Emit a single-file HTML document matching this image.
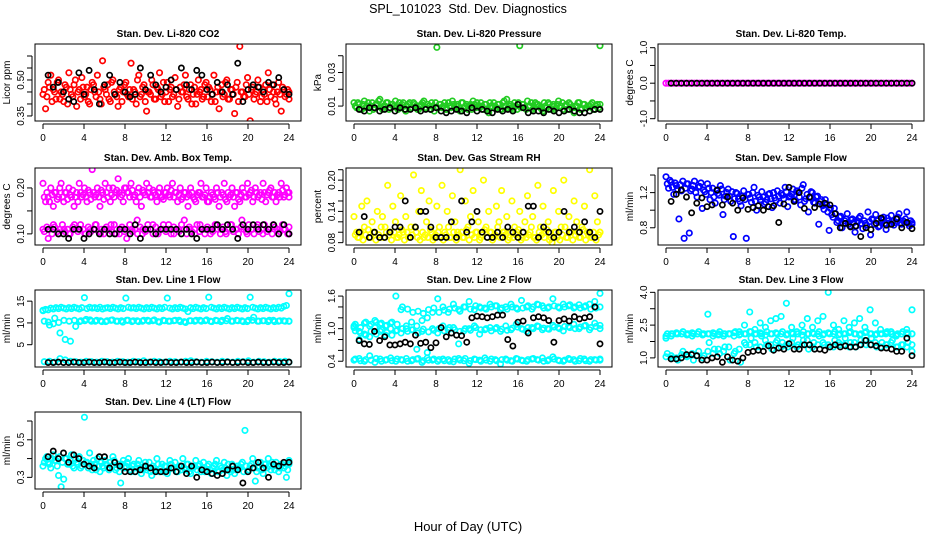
<!DOCTYPE html>
<html><head><meta charset="utf-8"><style>
html,body{margin:0;padding:0;background:#fff;}
svg{display:block;font-family:"Liberation Sans",Arial,sans-serif;}
</style></head><body>
<svg id="chart" width="936" height="540" viewBox="0 0 936 540">
<rect x="0" y="0" width="936" height="540" fill="#fff"/>
<text x="468" y="13" text-anchor="middle" font-size="12.5" xml:space="preserve">SPL_101023&#160;&#160;Std. Dev. Diagnostics</text>
<text x="468" y="531" text-anchor="middle" font-size="13">Hour of Day (UTC)</text>
</svg>
<script>
const xTicks=[0,4,8,12,16,20,24];
// Panel 1 CO2
const co2Color=[0.44,0.38,0.49,0.52,0.46,0.42,0.50,0.45,0.41,0.47,0.53,0.44,0.48,0.39,0.46,0.51,0.43,0.47,0.40,0.49,0.45,0.52,0.42,0.58,0.46,0.48,0.41,0.50,0.44,0.39,0.47,0.45,0.49,0.43,0.57,0.46,0.40,0.52,0.44,0.48,0.37,0.45,0.50,0.42,0.47,0.53,0.44,0.41,0.49,0.46,0.43,0.51,0.39,0.47,0.45,0.52,0.42,0.48,0.44,0.40,0.50,0.46,0.43,0.49,0.47,0.41,0.52,0.45,0.38,0.48,0.44,0.50,0.42,0.46,0.36,0.49,0.64,0.45,0.43,0.51,0.33,0.47,0.44,0.50,0.41,0.46,0.48,0.53,0.43,0.45,0.40,0.49,0.37,0.46,0.44,0.42];
const co2ColorB=[0.46,0.43,0.47,0.41,0.45,0.49,0.42,0.44,0.48,0.40,0.46,0.43,0.50,0.45,0.42,0.47,0.44,0.41,0.46,0.48,0.43,0.45,0.40,0.47,0.44,0.42,0.49,0.45,0.43,0.46,0.41,0.48,0.44,0.46,0.42,0.45,0.50,0.43,0.47,0.41,0.45,0.44,0.48,0.42,0.46,0.43,0.49,0.45,0.41,0.47,0.44,0.46,0.42,0.45,0.48,0.43,0.46,0.40,0.47,0.44,0.45,0.42,0.48,0.43,0.46,0.44,0.41,0.47,0.45,0.43,0.49,0.42,0.46,0.44,0.47,0.41,0.45,0.43,0.48,0.44,0.46,0.42,0.45,0.47,0.43,0.44,0.41,0.46,0.48,0.42,0.45,0.44,0.47,0.43,0.46,0.45];
const co2Black=[0.52,0.47,0.49,0.45,0.42,0.41,0.53,0.44,0.54,0.46,0.40,0.48,0.52,0.44,0.49,0.45,0.43,0.44,0.55,0.46,0.52,0.48,0.45,0.47,0.50,0.46,0.55,0.48,0.46,0.54,0.52,0.46,0.44,0.49,0.45,0.48,0.44,0.57,0.41,0.46,0.48,0.47,0.45,0.49,0.48,0.51,0.46,0.44];
// Panel 2 Pressure
const presColor=[0.012,0.009,0.011,0.008,0.013,0.010,0.007,0.012,0.009,0.011,0.014,0.008,0.010,0.012,0.009,0.011,0.013,0.008,0.010,0.012,0.007,0.011,0.009,0.012,0.010,0.008,0.011,0.013,0.009,0.010,0.012,0.007,0.045,0.011,0.009,0.012,0.008,0.010,0.013,0.009,0.011,0.007,0.012,0.010,0.008,0.011,0.013,0.009,0.010,0.012,0.008,0.011,0.006,0.010,0.012,0.009,0.011,0.008,0.013,0.014,0.010,0.009,0.012,0.008,0.046,0.011,0.009,0.013,0.010,0.008,0.012,0.011,0.009,0.007,0.010,0.012,0.008,0.011,0.009,0.013,0.010,0.008,0.011,0.012,0.009,0.006,0.010,0.012,0.008,0.011,0.009,0.010,0.012,0.008,0.011,0.046];
const presColorB=[0.010,0.012,0.008,0.011,0.009,0.012,0.010,0.008,0.011,0.013,0.009,0.010,0.012,0.008,0.011,0.010,0.009,0.012,0.011,0.008,0.010,0.012,0.009,0.011,0.008,0.010,0.012,0.009,0.011,0.008,0.010,0.012,0.009,0.011,0.010,0.008,0.012,0.009,0.011,0.010,0.008,0.012,0.009,0.011,0.010,0.008,0.011,0.012,0.009,0.010,0.011,0.008,0.012,0.009,0.010,0.011,0.008,0.012,0.010,0.009,0.011,0.008,0.010,0.012,0.009,0.011,0.008,0.010,0.012,0.009,0.011,0.010,0.008,0.012,0.009,0.011,0.010,0.008,0.011,0.009,0.012,0.010,0.008,0.011,0.009,0.010,0.012,0.008,0.011,0.009,0.010,0.011,0.008,0.010,0.009,0.011];
const presBlack=[0.008,0.007,0.009,0.009,0.007,0.008,0.009,0.007,0.009,0.008,0.008,0.009,0.007,0.008,0.008,0.009,0.007,0.006,0.007,0.008,0.007,0.006,0.009,0.007,0.008,0.007,0.006,0.008,0.007,0.008,0.007,0.011,0.009,0.006,0.007,0.007,0.006,0.008,0.007,0.006,0.007,0.008,0.007,0.006,0.006,0.007,0.008,0.008];
// Panel 3 Li-820 Temp
const tempColor=[0,0,0,0,0,0,0,0,0,0,0,0,0,0,0,0,0,0,0,0,0,0,0,0,0,0,0,0,0,0,0,0,0,0,0,0,0,0,0,0,0,0,0,0,0,0,0,0,0,0,0,0,0,0,0,0,0,0,0,0,0,0,0,0,0,0,0,0,0,0,0,0,0,0,0,0,0,0,0,0,0,0,0,0,0,0,0,0,0,0,0,0,0,0,0,0];
const tempBlack=[0,0,0,0,0,0,0,0,0,0,0,0,0,0,0,0,0,0,0,0,0,0,0,0,0,0,0,0,0,0,0,0,0,0,0,0,0,0,0,0,0,0,0,0,0,0,0,0];
// Panel 4 Amb Box Temp
const ambUpper=[0.21,0.17,0.18,0.20,0.16,0.19,0.18,0.21,0.17,0.19,0.20,0.18,0.16,0.19,0.21,0.18,0.20,0.17,0.19,0.24,0.18,0.20,0.16,0.19,0.21,0.18,0.17,0.20,0.19,0.22,0.18,0.17,0.20,0.19,0.21,0.18,0.17,0.20,0.16,0.19,0.21,0.20,0.18,0.19,0.17,0.20,0.18,0.19,0.20,0.18,0.21,0.19,0.17,0.20,0.18,0.19,0.16,0.20,0.18,0.17,0.19,0.21,0.18,0.20,0.17,0.19,0.18,0.20,0.16,0.19,0.21,0.17,0.18,0.20,0.16,0.19,0.17,0.20,0.18,0.21,0.19,0.17,0.20,0.18,0.19,0.21,0.17,0.19,0.20,0.18,0.17,0.19,0.21,0.18,0.20,0.19];
const ambUpperB=[0.18,0.19,0.17,0.185,0.19,0.175,0.20,0.18,0.19,0.175,0.185,0.195,0.18,0.17,0.19,0.185,0.18,0.195,0.175,0.19,0.185,0.18,0.195,0.175,0.19,0.20,0.185,0.18,0.195,0.19,0.185,0.20,0.19,0.18,0.195,0.185,0.19,0.18,0.195,0.185,0.19,0.18,0.195,0.185,0.19,0.18,0.175,0.19,0.185,0.195,0.18,0.19,0.185,0.175,0.19,0.18,0.185,0.19,0.175,0.185,0.19,0.18,0.185,0.17,0.18,0.185,0.175,0.19,0.18,0.185,0.175,0.19,0.185,0.18,0.19,0.175,0.185,0.19,0.18,0.185,0.195,0.18,0.19,0.185,0.175,0.19,0.185,0.195,0.18,0.19,0.185,0.18,0.195,0.185,0.19,0.18];
const ambLower=[0.11,0.09,0.12,0.10,0.11,0.10,0.12,0.11,0.10,0.11,0.12,0.10,0.11,0.12,0.10,0.11,0.09,0.11,0.13,0.10,0.11,0.12,0.10,0.11,0.12,0.10,0.11,0.13,0.11,0.10,0.12,0.11,0.10,0.12,0.11,0.10,0.12,0.11,0.13,0.10,0.11,0.12,0.10,0.11,0.12,0.10,0.11,0.10];
const ambLowerB=[0.105,0.115,0.11,0.10,0.115,0.105,0.11,0.12,0.105,0.11,0.10,0.115,0.11,0.105,0.12,0.11,0.10,0.115,0.105,0.11,0.12,0.105,0.11,0.10,0.115,0.11,0.105,0.12,0.11,0.10,0.115,0.105,0.11,0.12,0.105,0.11,0.10,0.115,0.11,0.105,0.12,0.11,0.10,0.115,0.105,0.11,0.12,0.105,0.11,0.10,0.115,0.11,0.105,0.12,0.11,0.10,0.115,0.105,0.11,0.12,0.105,0.11,0.10,0.115,0.11,0.105,0.12,0.11,0.10,0.115,0.105,0.11,0.12,0.105,0.11,0.10,0.115,0.11,0.105,0.12,0.11,0.10,0.115,0.105,0.11,0.12,0.105,0.11,0.10,0.115,0.11,0.105,0.12,0.11,0.10,0.115];
const ambBlack=[0.11,0.11,0.10,0.10,0.09,0.11,0.11,0.09,0.10,0.11,0.10,0.11,0.10,0.10,0.11,0.11,0.10,0.12,0.09,0.11,0.11,0.10,0.11,0.11,0.11,0.11,0.10,0.11,0.10,0.09,0.11,0.11,0.11,0.12,0.11,0.12,0.11,0.09,0.12,0.11,0.12,0.11,0.12,0.11,0.12,0.10,0.12,0.10];
// Panel 5 Gas Stream RH
const rhColor=[0.13,0.10,0.09,0.15,0.11,0.16,0.09,0.12,0.10,0.14,0.09,0.13,0.11,0.19,0.10,0.15,0.12,0.09,0.17,0.10,0.13,0.09,0.11,0.21,0.10,0.14,0.18,0.09,0.12,0.16,0.10,0.09,0.15,0.11,0.19,0.10,0.14,0.09,0.17,0.12,0.10,0.22,0.09,0.16,0.11,0.13,0.18,0.10,0.12,0.09,0.20,0.11,0.14,0.10,0.09,0.15,0.12,0.18,0.10,0.13,0.09,0.16,0.11,0.10,0.14,0.09,0.12,0.17,0.10,0.13,0.09,0.19,0.11,0.15,0.10,0.12,0.09,0.18,0.10,0.14,0.11,0.20,0.09,0.13,0.10,0.16,0.12,0.09,0.11,0.15,0.10,0.22,0.09,0.17,0.12,0.10];
const rhColorB=[0.095,0.09,0.10,0.085,0.095,0.105,0.09,0.10,0.085,0.095,0.11,0.09,0.10,0.095,0.085,0.10,0.09,0.095,0.105,0.085,0.10,0.09,0.095,0.11,0.09,0.085,0.10,0.095,0.09,0.105,0.085,0.095,0.10,0.09,0.085,0.095,0.11,0.09,0.10,0.085,0.095,0.10,0.09,0.105,0.085,0.095,0.09,0.10,0.085,0.095,0.105,0.09,0.10,0.085,0.095,0.11,0.09,0.10,0.095,0.085,0.10,0.09,0.095,0.105,0.085,0.10,0.09,0.095,0.11,0.09,0.085,0.10,0.095,0.09,0.105,0.085,0.08,0.10,0.09,0.085,0.095,0.11,0.09,0.10,0.085,0.095,0.10,0.09,0.105,0.085,0.095,0.09,0.10,0.085,0.095,0.10];
const rhBlack=[0.10,0.13,0.09,0.10,0.09,0.09,0.10,0.11,0.11,0.16,0.09,0.11,0.14,0.14,0.11,0.09,0.09,0.09,0.12,0.09,0.16,0.10,0.12,0.14,0.10,0.09,0.09,0.10,0.09,0.11,0.10,0.09,0.10,0.15,0.15,0.09,0.11,0.10,0.09,0.10,0.14,0.10,0.11,0.10,0.12,0.10,0.09,0.14];
// Panel 6 Sample Flow
const flowColor=[1.38,1.25,1.32,1.18,1.28,0.90,1.22,0.68,1.30,0.74,1.24,1.33,1.15,1.27,1.02,1.21,1.30,1.12,1.25,1.08,1.19,1.28,0.95,1.16,1.24,1.10,0.70,1.20,1.13,1.05,1.22,0.68,1.18,1.09,1.26,1.00,1.15,1.21,1.07,1.12,1.19,1.03,1.14,1.22,1.08,1.17,1.26,1.04,1.16,1.24,1.11,1.20,1.06,1.29,1.13,0.98,1.21,1.09,1.15,0.84,1.12,1.01,1.07,0.77,0.95,1.02,0.86,0.92,0.80,0.88,0.96,0.82,0.90,0.75,0.87,0.93,0.79,0.85,0.98,0.72,0.89,0.95,0.81,0.86,0.92,0.78,0.88,0.94,0.83,0.90,0.96,0.84,0.87,0.98,0.82,0.86];
const flowColorB=[1.30,1.34,1.26,1.31,1.24,1.29,1.33,1.25,1.30,1.22,1.28,1.20,1.26,1.31,1.23,1.18,1.25,1.20,1.15,1.22,1.17,1.24,1.12,1.20,1.16,1.21,1.13,1.19,1.10,1.16,1.12,1.18,1.14,1.20,1.10,1.17,1.12,1.15,1.09,1.18,1.13,1.20,1.11,1.16,1.19,1.13,1.21,1.15,1.18,1.12,1.22,1.15,1.25,1.10,1.18,1.14,1.20,1.08,1.16,1.10,1.05,1.12,0.98,1.02,0.92,0.96,0.88,0.93,0.85,0.90,0.84,0.89,0.86,0.82,0.91,0.85,0.88,0.83,0.87,0.90,0.84,0.88,0.82,0.89,0.85,0.91,0.84,0.87,0.86,0.92,0.85,0.88,0.90,0.85,0.88,0.84];
const flowBlack=[1.10,1.18,1.23,1.15,0.97,1.08,1.14,1.04,1.06,1.23,1.06,1.15,1.08,1.00,1.14,1.01,1.03,1.05,1.00,1.04,1.05,0.86,1.07,1.26,1.10,1.20,1.02,1.15,1.03,1.07,1.08,1.06,0.96,0.80,0.85,0.81,0.82,0.70,0.80,0.78,0.85,0.91,0.83,0.84,0.90,0.80,0.86,0.79];
// Panel 7 Line 1 Flow
const l1Upper=[12.9,13.1,13.0,13.4,13.2,13.5,13.3,13.6,13.4,13.2,13.5,13.3,13.6,13.4,13.2,13.5,15.8,13.3,13.6,13.4,13.5,13.3,13.6,13.2,13.4,13.5,13.3,13.6,13.4,13.2,13.5,13.3,15.7,13.6,13.4,13.5,13.3,13.6,13.4,13.2,13.5,13.3,13.6,13.4,13.2,13.5,13.3,13.6,15.7,13.4,13.2,13.5,13.3,13.6,13.4,13.2,12.6,13.5,13.3,13.6,13.4,13.2,13.5,13.3,15.9,13.6,13.4,13.2,13.5,13.3,13.6,13.4,13.2,13.5,13.3,13.6,13.4,13.2,13.5,13.3,15.9,13.6,13.4,13.2,13.5,13.3,13.6,13.4,13.2,13.5,13.3,13.6,13.4,13.8,14.0,16.7];
const l1Middle=[10.4,9.5,11.1,7.7,6.2,5.8,9.2,10.5,10.8,10.4,10.6,10.3,10.5,10.7,10.4,10.2,10.6,10.5,10.3,10.6,10.4,10.7,10.2,10.5,10.4,10.6,10.3,10.1,10.5,10.6,10.4,10.7,10.3,10.5,10.6,11.0,10.4,10.5,10.3,10.6,11.3,10.4,10.5,10.6,10.3,10.5,10.4,10.4];
const l1MiddleB=[12.8,10.2,9.8,10.1,10.6,10.4,10.6,10.3,10.5,10.7,10.4,10.5,10.3,10.6,10.4,10.5,10.6,10.3,10.5,10.4,10.6,10.5,10.3,10.6,10.4,10.5,10.6,10.3,10.5,10.4,10.6,10.5,10.4,10.6,10.3,10.5,10.4,10.6,10.5,10.3,10.6,10.4,10.5,10.3,10.6,10.4,10.5,10.4];
const l1Lower=[1.1,1.2,1.0,1.8,1.5,1.2,1.1,1.0,1.2,1.1,1.0,1.2,1.1,1.0,1.2,1.1,1.0,1.2,1.1,1.3,1.0,1.2,1.1,1.0,1.2,1.1,1.0,1.2,1.3,1.1,1.0,1.2,1.1,1.0,1.2,1.1,1.0,1.2,1.1,1.3,1.0,1.2,1.1,1.0,1.2,1.1,1.2,1.0];
const l1Black=[0.9,0.9,1.0,0.9,0.9,1.0,0.9,0.9,1.0,0.9,0.9,1.0,0.9,0.9,1.0,0.9,0.9,1.0,0.9,0.9,1.0,0.9,0.9,1.0,0.9,0.9,1.0,0.9,0.9,1.0,0.9,0.9,1.0,0.9,0.9,1.0,0.9,0.9,1.0,0.9,0.9,1.0,0.9,0.9,1.0,0.9,0.9,1.0];
// Panel 8 Line 2 Flow
const l2Upper=[1.05,0.95,1.10,1.05,1.15,1.08,1.05,1.10,1.60,1.35,1.00,1.12,1.05,1.15,1.20,1.30,1.55,1.40,1.30,1.45,1.35,1.40,1.50,1.35,1.40,1.38,1.45,1.42,1.35,1.40,1.45,1.38,1.52,1.40,1.36,1.45,1.42,1.38,1.55,1.40,1.45,1.42,1.38,1.44,1.40,1.45,1.50,1.65];
const l2UpperB=[1.08,1.02,1.12,1.08,1.12,1.10,1.06,1.12,1.08,1.40,1.36,1.30,1.32,1.28,1.35,1.38,1.30,1.34,1.36,1.38,1.32,1.40,1.36,1.42,1.38,1.36,1.40,1.42,1.38,1.36,1.40,1.36,1.38,1.42,1.40,1.44,1.38,1.40,1.42,1.38,1.40,1.44,1.40,1.38,1.42,1.36,1.38,1.40];
const l2Middle=[1.02,0.80,0.90,0.85,1.02,0.95,0.88,1.00,0.96,0.92,1.05,0.98,0.62,0.95,0.56,1.00,0.92,1.05,0.98,1.02,0.72,0.96,1.00,1.05,0.90,0.98,1.02,1.00,0.95,1.05,0.98,1.08,1.00,0.95,1.02,1.05,0.98,1.00,1.06,1.02,0.96,1.04,1.08,1.00,1.05,0.98,1.10,1.06];
const l2MiddleB=[0.96,0.92,0.88,0.95,0.90,0.98,0.93,0.88,0.97,1.00,0.95,0.98,0.92,0.99,0.94,0.97,1.00,0.96,1.02,0.98,0.95,1.00,0.97,1.02,0.98,1.00,0.96,1.02,0.99,0.97,1.01,1.03,0.99,1.02,1.00,1.04,1.01,0.99,1.03,1.00,1.04,1.02,1.00,1.03,1.06,1.02,1.04,1.00];
const l2Lower=[0.42,0.45,0.40,0.50,0.38,0.44,0.42,0.46,0.40,0.43,0.45,0.41,0.44,0.38,0.46,0.42,0.40,0.44,0.43,0.39,0.45,0.41,0.36,0.44,0.42,0.46,0.40,0.43,0.35,0.44,0.41,0.45,0.42,0.40,0.44,0.43,0.46,0.41,0.48,0.42,0.40,0.45,0.43,0.41,0.44,0.40,0.43,0.42];
const l2LowerB=[0.44,0.41,0.43,0.42,0.45,0.40,0.43,0.41,0.44,0.42,0.40,0.43,0.45,0.41,0.42,0.44,0.43,0.41,0.40,0.44,0.42,0.45,0.41,0.43,0.40,0.42,0.44,0.41,0.43,0.42,0.40,0.44,0.41,0.43,0.45,0.42,0.40,0.43,0.44,0.41,0.42,0.43,0.40,0.45,0.41,0.43,0.42,0.44];
const l2Black=[0.78,0.72,0.71,0.95,0.78,0.85,0.70,0.70,0.72,0.75,0.72,0.88,0.73,0.75,0.65,0.74,1.02,0.85,0.92,0.88,0.87,0.75,1.20,1.23,1.22,1.20,1.22,1.25,1.25,0.80,0.68,1.12,1.14,0.92,1.20,1.22,1.20,1.15,0.75,1.15,1.18,1.14,1.22,1.18,1.20,1.22,1.40,0.72];
// Panel 9 Line 3 Flow
const l3Upper=[1.9,2.0,2.1,2.1,2.1,2.0,2.1,2.1,3.0,2.0,2.1,2.0,2.1,2.0,2.2,2.5,3.1,2.3,2.6,2.4,2.7,2.8,2.9,3.5,2.4,2.2,2.5,2.8,2.4,2.7,2.9,4.0,2.5,2.3,2.7,2.4,2.6,2.8,2.4,3.2,2.6,2.3,2.1,2.2,2.0,2.1,2.3,3.2];
const l3Band=[2.1,2.1,2.1,2.2,2.1,2.1,2.2,2.1,2.1,2.1,2.2,2.1,2.1,2.2,2.1,2.1,2.2,2.1,2.1,2.2,2.1,2.1,2.2,2.1,2.1,2.1,2.2,2.1,2.1,2.2,2.1,2.1,2.2,2.1,2.1,2.2,2.1,2.1,2.2,2.1,2.1,2.1,2.2,2.1,2.1,2.2,2.1,2.1];
const l3BandB=[2.0,2.1,2.15,2.1,2.05,2.15,2.1,2.05,2.1,2.15,2.05,2.1,2.1,2.15,2.05,2.1,2.2,2.1,2.15,2.05,2.1,2.15,2.1,2.05,2.15,2.1,2.05,2.1,2.15,2.1,2.05,2.15,2.1,2.05,2.1,2.15,2.1,2.05,2.15,2.1,2.05,2.1,2.15,2.1,2.05,2.1,2.15,2.1];
const l3Lower=[1.2,1.0,0.9,1.3,1.1,0.9,1.3,1.1,1.7,1.4,1.2,1.5,0.9,1.3,0.8,1.6,1.9,1.5,2.0,1.6,1.4,1.8,1.7,1.5,1.9,1.6,1.8,1.4,1.7,2.0,1.6,1.5,1.8,1.6,1.9,1.7,1.5,1.8,1.6,1.9,1.5,1.7,1.6,1.8,1.5,1.6,1.7,1.3];
const l3LowerB=[1.05,1.1,1.0,1.15,1.05,1.2,1.1,1.0,1.3,1.2,1.4,1.3,1.5,1.2,1.4,1.7,1.6,1.7,1.5,1.8,1.6,1.7,1.5,1.6,1.7,1.5,1.6,1.8,1.5,1.6,1.7,1.6,1.5,1.7,1.6,1.5,1.7,1.6,1.8,1.6,1.7,1.5,1.6,1.7,1.5,1.6,1.5,1.6];
const l3Black=[0.95,0.95,1.0,1.15,1.15,1.1,0.9,0.9,1.0,1.05,0.8,1.05,0.9,0.85,1.0,1.25,1.3,1.35,1.3,1.55,1.35,1.45,1.4,1.65,1.4,1.4,1.6,1.6,1.4,1.4,1.35,1.5,1.6,1.5,1.55,1.5,1.5,1.6,1.8,1.6,1.55,1.45,1.45,1.4,1.3,1.3,1.9,1.1];
// Panel 10 Line 4 Flow
const l4Color=[0.36,0.40,0.38,0.35,0.42,0.39,0.31,0.25,0.29,0.40,0.37,0.42,0.35,0.38,0.41,0.36,0.62,0.38,0.43,0.34,0.37,0.40,0.33,0.36,0.39,0.35,0.38,0.41,0.34,0.37,0.27,0.39,0.36,0.40,0.33,0.37,0.35,0.39,0.32,0.36,0.34,0.38,0.31,0.35,0.40,0.33,0.37,0.36,0.32,0.39,0.35,0.38,0.33,0.36,0.40,0.34,0.37,0.32,0.35,0.39,0.36,0.33,0.38,0.34,0.37,0.32,0.36,0.39,0.33,0.35,0.38,0.31,0.34,0.37,0.32,0.36,0.35,0.38,0.55,0.33,0.36,0.40,0.28,0.35,0.38,0.32,0.37,0.40,0.34,0.36,0.38,0.33,0.37,0.35,0.30,0.39];
const l4ColorB=[0.38,0.41,0.37,0.40,0.39,0.36,0.41,0.38,0.40,0.37,0.39,0.36,0.40,0.37,0.35,0.39,0.38,0.35,0.37,0.39,0.34,0.36,0.38,0.35,0.37,0.34,0.36,0.39,0.35,0.33,0.37,0.35,0.38,0.34,0.36,0.33,0.37,0.35,0.34,0.38,0.35,0.33,0.36,0.34,0.37,0.35,0.33,0.36,0.34,0.37,0.35,0.33,0.36,0.34,0.35,0.37,0.33,0.35,0.36,0.34,0.37,0.35,0.33,0.36,0.34,0.35,0.37,0.33,0.36,0.34,0.35,0.37,0.33,0.36,0.34,0.35,0.37,0.33,0.36,0.34,0.37,0.35,0.33,0.36,0.34,0.37,0.35,0.36,0.38,0.34,0.36,0.35,0.37,0.36,0.34,0.37];
const l4Black=[0.41,0.44,0.40,0.43,0.38,0.42,0.40,0.37,0.36,0.35,0.41,0.41,0.35,0.38,0.36,0.33,0.33,0.33,0.34,0.36,0.35,0.33,0.33,0.33,0.35,0.33,0.36,0.32,0.36,0.30,0.34,0.33,0.32,0.31,0.32,0.34,0.36,0.34,0.27,0.33,0.35,0.38,0.35,0.30,0.37,0.36,0.38,0.38];

const panels=[
 {name:'co2',title:'Stan. Dev. Li-820 CO2',ylab:'Licor ppm',col:0,row:0,ymin:0.329,ymax:0.65,ticks:[0.35,0.40,0.45,0.50,0.55,0.60],labels:['0.35','','','0.50','',''],color:'#ff0000',series:[co2Color,co2ColorB],black:co2Black},
 {name:'pressure',title:'Stan. Dev. Li-820 Pressure',ylab:'kPa',col:1,row:0,ymin:0.0011,ymax:0.047,ticks:[0.01,0.02,0.03,0.04],labels:['0.01','','0.03',''],color:'#22cc22',series:[presColor,presColorB],black:presBlack},
 {name:'li820-temp',title:'Stan. Dev. Li-820 Temp.',ylab:'degrees C',col:2,row:0,ymin:-1.065,ymax:1.104,ticks:[-1,-0.5,0,0.5,1],labels:['-1.0','','0.0','','1.0'],color:'#ff00ff',series:[tempColor],black:tempBlack},
 {name:'amb-box-temp',title:'Stan. Dev. Amb. Box Temp.',ylab:'degrees C',col:0,row:1,ymin:0.0758,ymax:0.2434,ticks:[0.10,0.15,0.20],labels:['0.10','','0.20'],color:'#ff00ff',series:[ambUpper,ambUpperB,ambLower,ambLowerB],black:ambBlack},
 {name:'gas-stream-rh',title:'Stan. Dev. Gas Stream RH',ylab:'percent',col:1,row:1,ymin:0.0755,ymax:0.2233,ticks:[0.08,0.10,0.12,0.14,0.16,0.18,0.20,0.22],labels:['0.08','','','0.14','','','0.20',''],color:'#ffff00',series:[rhColor,rhColorB],black:rhBlack},
 {name:'sample-flow',title:'Stan. Dev. Sample Flow',ylab:'ml/min',col:2,row:1,ymin:0.604,ymax:1.48,ticks:[0.8,1.0,1.2,1.4],labels:['0.8','','1.2',''],color:'#0000ff',series:[flowColor,flowColorB],black:flowBlack},
 {name:'line1-flow',title:'Stan. Dev. Line 1 Flow',ylab:'ml/min',col:0,row:2,ymin:-0.12,ymax:17.56,ticks:[5,10,15],labels:['5','10','15'],color:'#00ffff',series:[l1Upper,l1Middle,l1MiddleB,l1Lower],black:l1Black},
 {name:'line2-flow',title:'Stan. Dev. Line 2 Flow',ylab:'ml/min',col:1,row:2,ymin:0.294,ymax:1.712,ticks:[0.4,0.6,0.8,1.0,1.2,1.4,1.6],labels:['0.4','','','1.0','','','1.6'],color:'#00ffff',series:[l2Upper,l2UpperB,l2Middle,l2MiddleB,l2Lower,l2LowerB],black:l2Black},
 {name:'line3-flow',title:'Stan. Dev. Line 3 Flow',ylab:'ml/min',col:2,row:2,ymin:0.583,ymax:4.107,ticks:[1.0,1.75,2.5,3.25,4.0],labels:['1.0','','2.5','','4.0'],color:'#00ffff',series:[l3Upper,l3Band,l3BandB,l3Lower,l3LowerB],black:l3Black},
 {name:'line4-flow',title:'Stan. Dev. Line 4 (LT) Flow',ylab:'ml/min',col:0,row:3,ymin:0.238,ymax:0.648,ticks:[0.3,0.4,0.5,0.6],labels:['0.3','','0.5',''],color:'#00ffff',series:[l4Color,l4ColorB],black:l4Black}
];
const colLeft=[35,346,658], rowTop=[44,168,290,412], W=266, H=77;
const NS='http://www.w3.org/2000/svg';
const svg=document.getElementById('chart');
function mk(tag,attrs,parent){const e=document.createElementNS(NS,tag);for(const k in attrs)e.setAttribute(k,attrs[k]);parent.appendChild(e);return e;}
panels.forEach(p=>{
 const L=colLeft[p.col],T=rowTop[p.row];
 const g=mk('g',{},svg);
 
 
 const xs=h=>L+8+h*(246/24);
 const ys=v=>T+H-(v-p.ymin)/(p.ymax-p.ymin)*H;
 const clip='clip-'+p.name;
 const cp=mk('clipPath',{id:clip},g);mk('rect',{x:L,y:T,width:W,height:H},cp);
 const pts=mk('g',{'clip-path':'url(#'+clip+')'},g);
 
 
 p.series.forEach((arr,si)=>{const off=(si%2)?0.125:0;arr.forEach((v,i)=>{
  const c=mk('circle',{cx:xs(Math.min(24,off+i*24/(arr.length-1))),cy:ys(v),r:2.7,fill:'none',stroke:p.color,'stroke-width':1.7},pts);
  
  
 });});
 p.black.forEach((v,i)=>{
  const c=mk('circle',{cx:xs(0.5+i*0.5),cy:ys(v),r:2.6,fill:'none',stroke:'#000','stroke-width':1.7},pts);
  
  
 });
 const box=mk('rect',{x:L,y:T,width:W,height:H,fill:'none',stroke:'#000','stroke-width':1},g);
 
 
 const t=mk('text',{x:L+W/2,y:T-7,'text-anchor':'middle','font-size':10,'font-weight':'bold'},g);t.textContent=p.title;
 
 
 mk('line',{x1:xs(0),x2:xs(24),y1:T+H+3,y2:T+H+3,stroke:'#000'},g);
 xTicks.forEach(h=>{
  mk('line',{x1:xs(h),x2:xs(h),y1:T+H+3,y2:T+H+8,stroke:'#000'},g);
  const tl=mk('text',{x:xs(h),y:T+H+20,'text-anchor':'middle','font-size':10},g);tl.textContent=h;
  
  
 });
 mk('line',{x1:L-3,x2:L-3,y1:ys(p.ticks[0]),y2:ys(p.ticks[p.ticks.length-1]),stroke:'#000'},g);
 p.ticks.forEach((v,i)=>{
  mk('line',{x1:L-8,x2:L-3,y1:ys(v),y2:ys(v),stroke:'#000'},g);
  if(p.labels[i]){const yl=mk('text',{x:0,y:0,'text-anchor':'middle','font-size':10,transform:'translate('+(L-11)+','+ys(v)+') rotate(-90)'},g);yl.textContent=p.labels[i];
  
  }
 });
 const yt=mk('text',{x:0,y:0,'text-anchor':'middle','font-size':10,transform:'translate('+(L-25)+','+(T+H/2)+') rotate(-90)'},g);yt.textContent=p.ylab;
 
 
});
</script>
</body></html>
